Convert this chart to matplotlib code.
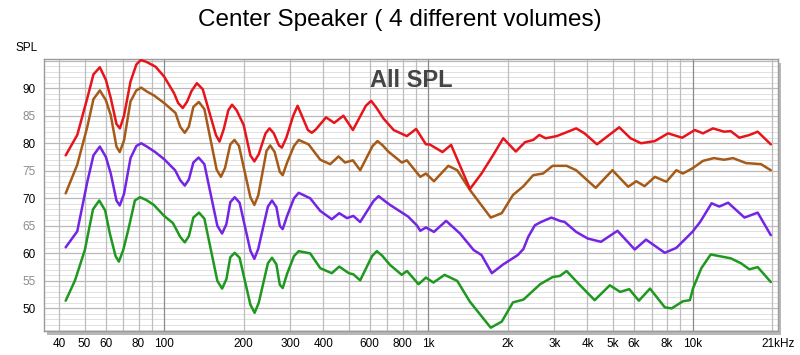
import matplotlib
matplotlib.use('Agg')
import matplotlib.pyplot as plt
from matplotlib.patches import Rectangle

plt.rcParams['font.family'] = ['Liberation Sans', 'DejaVu Sans']

# Frequenzgaenge (Hz, dB SPL)
red_f = [42.4, 46.9, 51.2, 54, 57.1, 60.2, 62.8, 66, 68, 70.5, 74.6, 78.5, 81.5, 85.5, 92.8,
         100, 109, 113, 117.6, 122, 127, 133, 140, 157, 162, 168, 175, 180.7, 188, 200, 212,
         219.5, 228, 242, 250.6, 260, 272, 279, 290, 308, 320, 332, 350, 362, 375, 410, 440,
         477, 518, 580, 607, 635, 676, 739, 829, 899, 979, 1010, 1131, 1219, 1437, 1589, 1761,
         1920, 2143, 2322, 2493, 2630, 2780, 3061, 3335, 3626, 3898, 4346, 5275, 5824, 6384,
         7200, 8075, 9134, 10190, 10950, 11940, 13150, 13940, 15030, 16410, 17640, 19770]
red_db = [77.8, 81.5, 88.2, 92.5, 93.8, 91.5, 88.2, 83.5, 82.7, 85.0, 91.2, 94.3, 95.1, 94.8, 93.9,
          92.1, 89.1, 87.3, 86.4, 87.5, 89.5, 90.9, 89.8, 81.5, 80.3, 82.5, 86.0, 87.0, 86.0, 83.3, 77.8,
          76.7, 78.0, 81.8, 82.7, 81.8, 79.6, 79.2, 81.0, 85.0, 86.8, 85.0, 82.4, 81.9, 82.5, 84.7, 83.7,
          85.0, 82.4, 86.8, 87.7, 86.5, 84.5, 82.4, 81.3, 82.6, 79.8, 79.8, 78.4, 79.7, 71.7, 74.5, 77.9,
          80.9, 78.5, 80.2, 80.6, 81.5, 80.9, 81.3, 82.0, 82.7, 81.8, 79.8, 82.9, 80.9, 80.0,
          80.4, 81.8, 81.0, 82.4, 81.8, 82.7, 82.1, 82.2, 81.0, 81.5, 82.1, 79.8]

brown_f = [42.4, 46.9, 51.2, 54, 57.1, 60.2, 62.8, 66, 67.9, 70.5, 74.6, 78.5, 81.9, 86, 91.4,
           100, 110.4, 115, 119.7, 124, 129, 135.3, 142, 158, 164, 170, 178, 184.6, 192, 212,
           219.5, 227, 244, 252, 262, 274, 281, 292, 310, 323, 352, 390, 425, 457, 484, 518, 552,
           615, 642, 672, 705, 793, 829, 932, 979, 1050, 1190, 1286, 1437, 1722, 1895, 2090, 2290,
           2493, 2717, 2953, 3335, 3626, 4297, 4973, 5705, 6125, 6580, 7200, 7960, 8680, 9190,
           10030, 10950, 12050, 13150, 14220, 15930, 18150, 19770]
brown_db = [70.9, 76.1, 83.0, 88.0, 89.6, 87.8, 85.1, 79.4, 78.4, 80.5, 87.6, 89.6, 90.1, 89.4, 88.7,
            87.3, 85.5, 83.0, 81.9, 83.0, 86.6, 87.5, 86.2, 75.2, 73.9, 75.5, 79.8, 80.6, 79.5, 70.2,
            68.8, 70.5, 78.6, 79.6, 78.4, 74.8, 74.2, 76.5, 79.5, 80.6, 79.8, 77.0, 76.2, 77.6, 76.5, 76.9, 75.1,
            79.5, 80.4, 79.6, 78.5, 76.5, 76.9, 73.9, 74.5, 73.1, 75.9, 75.1, 71.5, 66.5, 67.3, 70.6, 72.2,
            74.2, 74.5, 75.9, 75.9, 75.1, 71.9, 75.1, 72.1, 73.1, 72.2, 73.9, 73.0, 75.1, 74.5,
            75.5, 76.8, 77.3, 77.0, 77.3, 76.4, 76.2, 75.1]

purple_f = [42.4, 46.9, 51.2, 54, 57.1, 60.2, 62.8, 66, 67.9, 70.5, 74.6, 78.5, 81.9, 86, 92.5,
            100, 110, 115, 119.7, 124, 129, 135, 142, 159, 165.7, 172, 178, 185, 193, 212,
            219.5, 227, 247, 256, 266, 274, 281, 292, 310, 323, 357, 390, 431, 460, 492, 520, 552,
            620, 648, 680, 716, 837, 904, 932, 979, 1050, 1167, 1318, 1484, 1589, 1739, 1920, 2181,
            2290, 2388, 2530, 2670, 2920, 3146, 3280, 3626, 4007, 4500, 5196, 6040, 6665, 7850,
            8680, 9980, 10680, 11800, 12620, 13630, 15720, 17640, 19770]
purple_db = [61.1, 64.0, 73.0, 77.8, 79.4, 77.5, 74.5, 69.6, 68.7, 70.8, 77.3, 79.5, 80.0, 79.4, 78.4,
             77.1, 75.1, 73.3, 72.3, 73.4, 76.5, 77.4, 76.2, 65.0, 63.6, 65.3, 69.3, 70.2, 69.2, 60.5,
             59.0, 60.8, 68.5, 69.6, 68.4, 65.0, 64.4, 66.8, 70.0, 71.0, 70.0, 67.7, 66.2, 67.3, 66.4, 66.8, 65.7,
             69.5, 70.4, 69.6, 68.8, 66.7, 65.1, 64.1, 64.7, 63.9, 65.9, 63.6, 60.6, 59.7, 56.4, 58.0, 59.7,
             60.8, 63.0, 65.1, 65.7, 66.5, 65.9, 65.7, 63.9, 62.7, 62.1, 64.1, 60.7, 62.5, 60.1,
             61.0, 63.9, 65.7, 69.1, 68.5, 69.2, 66.5, 67.4, 63.3]

green_f = [42.4, 46.0, 50.1, 53.8, 56.8, 59.8, 62.3, 65.5, 67.4, 70, 73.1, 77.5, 81, 85.5, 91.4,
           100, 108, 115, 119.7, 124, 129, 135.5, 142, 159, 165.7, 172, 178, 185, 193, 212,
           220, 228, 247, 256, 266, 274, 281, 292, 310, 323, 357, 390, 431, 460, 500, 520, 552,
           612, 638, 668, 716, 793, 830, 918, 979, 1045, 1152, 1286, 1437, 1722, 1895, 2090, 2290,
           2650, 2953, 3146, 3335, 3700, 4260, 4860, 5320, 5760, 6260, 6900, 7850, 8330, 9190,
           9770, 10030, 10790, 11710, 12940, 13940, 15250, 16410, 17640, 19770]
green_db = [51.4, 55.1, 60.6, 68.0, 69.6, 67.8, 63.6, 59.5, 58.5, 60.6, 64.2, 69.6, 70.2, 69.7, 68.8,
            66.8, 65.5, 63.0, 62.0, 63.1, 66.5, 67.4, 66.3, 55.0, 53.6, 55.3, 59.3, 60.1, 59.2, 50.7,
            49.2, 51.0, 58.2, 59.2, 58.0, 54.3, 53.7, 56.3, 59.5, 60.4, 60.0, 57.3, 56.4, 57.6, 56.4, 56.2, 55.1,
            59.5, 60.4, 59.6, 57.9, 56.1, 56.8, 54.4, 55.6, 54.7, 56.1, 55.0, 51.2, 46.5, 47.6, 51.1, 51.6,
            54.4, 55.7, 55.9, 56.8, 54.5, 51.5, 54.2, 53.0, 53.5, 51.4, 53.6, 50.2, 50.0, 51.3,
            51.5, 53.6, 57.3, 59.8, 59.4, 59.1, 58.2, 57.1, 57.5, 54.8]

x_ticks = [40, 50, 60, 80, 100, 200, 300, 400, 600, 800, 1000, 2000, 3000, 4000, 5000,
           6000, 8000, 10000, 21000]
x_labels = ['40', '50', '60', '80', '100', '200', '300', '400', '600', '800', '1k', '2k',
            '3k', '4k', '5k', '6k', '8k', '10k', '21kHz']
y_ticks = [50, 55, 60, 65, 70, 75, 80, 85, 90]

fig = plt.figure(figsize=(8, 3.55), dpi=100)
ax = fig.add_axes([44 / 800, 24 / 355, 734 / 800, 272 / 355])
ax.set_zorder(2)

# Schatten rechts/unten
fig.add_artist(Rectangle((47 / 800, 20 / 355), 734 / 800, 272 / 355,
                         transform=fig.transFigure, facecolor='#b8b8b8',
                         edgecolor='none', zorder=0))

ax.set_xscale('log')
ax.set_xlim(35.1, 21050)
ax.set_ylim(45.9, 95.3)

# Gitter
for db in range(46, 96):
    if db % 5 == 0:
        ax.axhline(db, color='#b9b9b9', lw=0.9, zorder=1)
    else:
        ax.axhline(db, color='#e1e1e1', lw=0.7, zorder=0.5)
for dec in [10, 100, 1000, 10000]:
    for m in range(1, 10):
        f = dec * m
        if f < 36 or f > 21000:
            continue
        if m == 1:
            ax.axvline(f, color='#8a8a8a', lw=0.9, zorder=1.2)
        else:
            ax.axvline(f, color='#bdbdbd', lw=0.9, zorder=1.1)

kw = dict(lw=1.8, solid_joinstyle='round', solid_capstyle='round')
ax.plot(red_f, red_db, color='#e8141c', zorder=5, **kw)
ax.plot(brown_f, brown_db, color='#a65a18', zorder=4, **kw)
ax.plot(purple_f, purple_db, color='#7424e4', zorder=3, **kw)
ax.plot(green_f, green_db, color='#1f981f', zorder=2, **kw)

ax.set_xticks(x_ticks)
ax.set_xticklabels(x_labels)
ax.minorticks_off()
ax.set_yticks(y_ticks)
ax.set_yticklabels([str(v) for v in y_ticks])
for lab, v in zip(ax.get_yticklabels(), y_ticks):
    lab.set_color('#000000' if v % 10 == 0 else '#8c8c8c')
ax.tick_params(axis='both', length=0, labelsize=8.5)
ax.tick_params(axis='x', pad=5)
ax.tick_params(axis='y', pad=6)

for s in ax.spines.values():
    s.set_color('#9a9a9a')
    s.set_linewidth(1)

ax.text(0.5, 0.92, 'All SPL', transform=ax.transAxes, ha='center', va='center',
        fontsize=17, fontweight='bold', color='#444444', zorder=6)
fig.text(400 / 800, 1 - 20 / 355, 'Center Speaker ( 4 different volumes)',
         ha='center', va='center', fontsize=17.5)
fig.text(27 / 800, 1 - 48 / 355, 'SPL', ha='center', va='center', fontsize=8.5)

fig.savefig('out.png', dpi=100)
